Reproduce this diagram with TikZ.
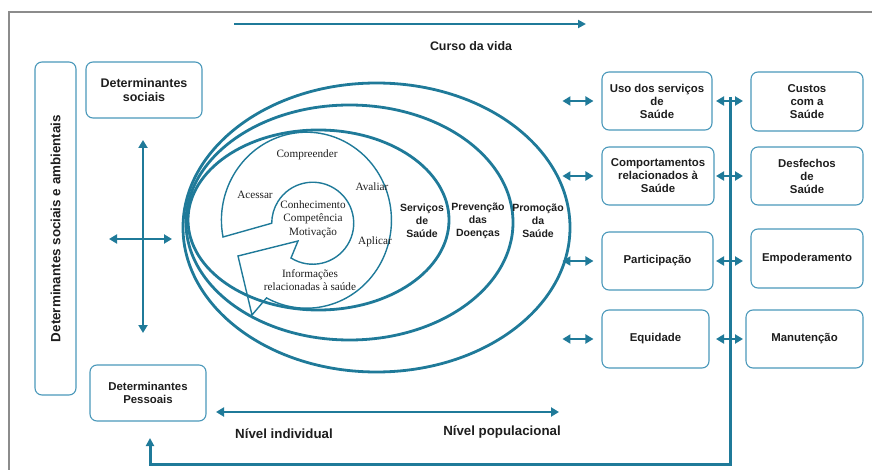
\documentclass[tikz,border=0pt]{standalone}
\usepackage{fontspec}
\setmainfont{Liberation Serif}
\setsansfont{Liberation Sans}
\usetikzlibrary{arrows.meta, calc}

\definecolor{azul}{RGB}{31,122,153}
\definecolor{azulclaro}{RGB}{74,152,186}
\definecolor{cinza}{RGB}{140,140,140}
\definecolor{texto}{RGB}{30,30,30}

\begin{document}
\begin{tikzpicture}[
    x=1pt, y=-1pt, % 1 unidade = 1 pixel da figura
    caixa/.style={
      rectangle,
      rounded corners=7pt,
      draw=azulclaro,
      line width=1.1pt,
      align=center,
      text=texto,
      inner sep=2pt,
      font=\sffamily\bfseries\fontsize{11.4}{13}\selectfont
    },
    rotulo/.style={
      align=center,
      text=texto,
      font=\sffamily\bfseries\fontsize{10.5}{13}\selectfont
    },
    serifa/.style={
      align=center,
      text=texto,
      inner sep=1pt,
      font=\rmfamily\fontsize{11.2}{13.5}\selectfont
    },
    anel/.style={draw=azul, line width=2.8pt},
    espiral/.style={draw=azul, line width=1.4pt, line join=miter},
    seta/.style={
      draw=azul,
      line width=2.6pt,
      -{Triangle[length=8pt, width=8pt]}
    },
    dupla/.style={
      draw=azul,
      line width=2.6pt,
      {Triangle[length=8pt, width=9pt]}-{Triangle[length=8pt, width=9pt]}
    }
  ]

  \useasboundingbox (0,0) rectangle (872,470);

  % Moldura
  \draw[cinza, line width=2.5pt] (9,480) -- (9,12) -- (880,12);

  % Curso da vida
  \coordinate (vidaIni) at (234,24);
  \coordinate (vidaFim) at (586,24);
  \draw[seta] (vidaIni) -- (vidaFim);
  \node[rotulo, font=\sffamily\bfseries\fontsize{12.4}{14}\selectfont] (vida) at (471,46) {Curso da vida};

  % Determinantes (lado esquerdo)
  \node[caixa, rotate=90, minimum width=333pt, minimum height=41pt,
        font=\sffamily\bfseries\fontsize{13.4}{15}\selectfont] (detamb) at (55.5,228.5) {Determinantes sociais e ambientais};
  \node[caixa, minimum width=116pt, minimum height=56pt,
        font=\sffamily\bfseries\fontsize{12.5}{14.5}\selectfont] (detsoc) at (144,90) {Determinantes\\sociais};
  \node[caixa, minimum width=116pt, minimum height=56pt] (detpes) at (148,393) {Determinantes\\Pessoais};

  % Cruz de setas
  \coordinate (cruzN) at (143,140);
  \coordinate (cruzS) at (143,333);
  \coordinate (cruzO) at (109,239);
  \coordinate (cruzL) at (172,239);
  \draw[dupla] (cruzN) -- (cruzS);
  \draw[dupla] (cruzO) -- (cruzL);

  % Elipses
  \draw[anel] (376.5,227.5) ellipse [x radius=193.5, y radius=144.5];
  \draw[anel] (349.5,222.5) ellipse [x radius=163.5, y radius=117.5];
  \draw[anel] (318.5,220) ellipse [x radius=130.5, y radius=90];

  \node[rotulo] (servicos) at (422,221) {Serviços\\de\\Saúde};
  \node[rotulo] (prevencao) at (478,221) {Prevenção\\das\\Doenças};
  \node[rotulo] (promocao) at (538,221) {Promoção\\da\\Saúde};

  % Seta em espiral
  \draw[espiral] (223,237)
    arc[start angle=-191, end angle=118, x radius=85, y radius=88]
    -- (252,315) -- (238,256) -- (298,241) -- (291,258)
    arc[start angle=122, end angle=-180, radius=41]
    -- cycle;

  \node[serifa] (compreender) at (307,155) {Compreender};
  \node[serifa] (acessar) at (255,195) {Acessar};
  \node[serifa] (avaliar) at (372,187) {Avaliar};
  \node[serifa] (aplicar) at (375,242) {Aplicar};
  \node[serifa] (conhec) at (313,219) {Conhecimento\\Competência\\Motivação};
  \node[serifa] (info) at (310,280) {Informações\\relacionadas à saúde};

  % Caixas do meio
  \node[caixa, minimum width=110pt, minimum height=58pt] (uso) at (657,101) {Uso dos serviços\\de\\Saúde};
  \node[caixa, minimum width=112pt, minimum height=58pt] (comp) at (658,176) {Comportamentos\\relacionados à\\Saúde};
  \node[caixa, minimum width=111pt, minimum height=58pt] (part) at (657.5,261) {Participação};
  \node[caixa, minimum width=107pt, minimum height=58pt] (equi) at (655.5,339) {Equidade};

  % Caixas da direita
  \node[caixa, minimum width=112pt, minimum height=59pt] (custos) at (807,101.5) {Custos\\com a\\Saúde};
  \node[caixa, minimum width=112pt, minimum height=58pt] (desf) at (807,176) {Desfechos\\de\\Saúde};
  \node[caixa, minimum width=112pt, minimum height=59pt] (empo) at (807,258.5) {Empoderamento};
  \node[caixa, minimum width=117pt, minimum height=58pt] (manu) at (804.5,339) {Manutenção};

  % Linha de retorno
  \coordinate (retTopo) at (730,97);
  \coordinate (retBase) at (730,464);
  \coordinate (retEsq) at (150,464);
  \coordinate (retFim) at (150,438);
  \draw[seta, line width=3pt] (retTopo) -- (retBase) -- (retEsq) -- (retFim);

  % Setas duplas
  \draw[dupla] ([xshift=-39pt]uso.west) -- ([xshift=-8pt]uso.west);
  \draw[dupla] ([xshift=-39pt]comp.west) -- ([xshift=-8pt]comp.west);
  \draw[dupla] ([xshift=-39pt]part.west) -- ([xshift=-8pt]part.west);
  \draw[dupla] ([xshift=-39pt]equi.west) -- ([xshift=-8pt]equi.west);
  \draw[dupla] ($(uso.east -| retTopo)+(-14,0)$) -- ($(uso.east -| retTopo)+(13,0)$);
  \draw[dupla] ($(comp.east -| retTopo)+(-14,0)$) -- ($(comp.east -| retTopo)+(13,0)$);
  \draw[dupla] ($(part.east -| retTopo)+(-14,0)$) -- ($(part.east -| retTopo)+(13,0)$);
  \draw[dupla] ($(equi.east -| retTopo)+(-14,0)$) -- ($(equi.east -| retTopo)+(13,0)$);

  % Nivel individual / populacional
  \coordinate (nivIni) at (216,412);
  \coordinate (nivFim) at (559,412);
  \draw[dupla] (nivIni) -- (nivFim);
  \node[rotulo, font=\sffamily\bfseries\fontsize{13.3}{15}\selectfont] (individual) at (284,434) {Nível individual};
  \node[rotulo, font=\sffamily\bfseries\fontsize{13.3}{15}\selectfont] (populacional) at (502,432) {Nível populacional};

\end{tikzpicture}
\end{document}
